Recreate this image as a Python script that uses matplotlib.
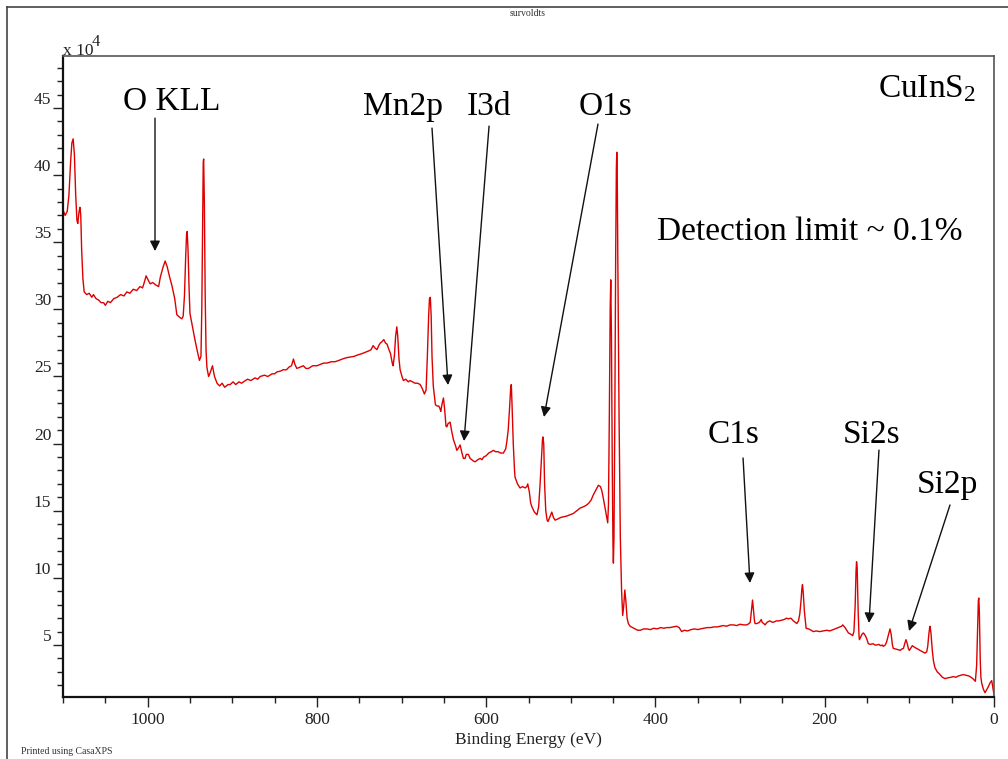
import matplotlib
matplotlib.use('Agg')
import matplotlib.pyplot as plt
from matplotlib.ticker import MultipleLocator
from matplotlib.lines import Line2D

# ---------------- data (binding energy in eV, counts in units of 1e4) ----------------
binding_energy = [
    1100, 1097.5, 1095, 1093, 1091, 1089.5, 1088, 1086.5, 1085, 1083.5, 1082.5, 1081, 1080, 1079,
    1078, 1076.5, 1075, 1072, 1069, 1066, 1064, 1061, 1058, 1055, 1052, 1050, 1047, 1044, 1040,
    1036, 1032, 1028, 1024.6, 1021, 1017, 1013, 1009, 1006, 1004, 1001.8, 999.5, 997, 994, 990,
    987, 985, 982, 979.3, 977, 974, 971.4, 968, 965.5, 962, 959.5, 958, 956.5, 955, 954, 953.3,
    952.3, 951, 950, 947, 944, 941, 938.8, 937, 936, 935, 934.3, 933.8, 933, 932, 931, 930, 928,
    926, 923.4, 921, 918, 915, 912, 909, 905, 902.5, 899, 896, 892, 889, 886.8, 882, 878, 873,
    870, 867, 862, 858, 853, 850, 847, 843, 840, 836, 833, 830, 827.7, 826, 823.7, 820, 816, 813,
    810, 805, 800, 796, 792, 788, 783, 778.6, 774, 770, 765, 760.8, 756, 752, 747, 743, 739, 736,
    733.6, 731, 729, 727, 725, 723, 721, 719, 717, 715.5, 713, 711, 710, 708.5, 707, 705.6, 704.5,
    703, 701.7, 699.5, 697.8, 695, 692, 690, 687, 684, 681, 678, 675.5, 673, 671, 669.5, 668, 667,
    666, 665, 664, 662.5, 662, 660, 658, 656, 654.5, 653.7, 652, 650.5, 649, 647.5, 646.5, 645,
    642.6, 641, 638.7, 636, 634.7, 632.5, 630.8, 629, 626.9, 625, 623.5, 621, 619, 617, 615, 613,
    610, 607, 605, 603, 600, 597, 594, 591.5, 589, 586, 583, 579.7, 577, 575.7, 574, 572.5, 571,
    570.3, 569.5, 568, 566.5, 565.9, 563, 560, 557, 554, 552, 550.9, 549, 547.5, 546, 543, 540,
    538, 537, 536.3, 535, 533.5, 533, 532, 531, 529.6, 528, 527, 525, 522.5, 520.5, 518.6, 515,
    512, 508.8, 505, 501, 497, 493, 489, 485, 482, 479, 476, 473.3, 470, 467.4, 465, 463.4, 461.5,
    459.5, 457.5, 456.4, 455.5, 454.5, 453.5, 452.8, 452, 451, 450.2, 449.7, 449, 448, 447, 446.2,
    445.7, 445.2, 444.5, 443, 441.5, 440, 438.7, 437.5, 436.2, 435, 433.5, 432, 430, 427, 424, 421,
    418, 414, 410, 406, 402, 398, 394, 390, 386.7, 383, 379, 375, 372, 369, 366, 362, 358, 354,
    350, 347, 343, 339, 335, 331, 327, 323.7, 320, 316, 312, 308, 304, 300, 296, 292, 289.5, 288,
    286.5, 285.3, 284.5, 283, 282.3, 280, 277, 275, 274, 272, 270.5, 268, 265, 262, 260.7, 257,
    254, 251, 248, 245, 243, 240, 237, 235, 233, 231, 229.5, 228, 227, 226.3, 225.5, 224, 222, 219,
    216, 213.5, 210, 206, 202, 197.6, 194, 190, 185.8, 182, 180, 178.7, 176, 173, 172, 169, 167,
    165.5, 164, 163, 162.4, 161.7, 160.5, 159.5, 159, 157.5, 156, 154.4, 153, 151.2, 150, 148.5,
    146, 143, 140.5, 138.6, 136, 134, 132, 130.8, 128.5, 126.8, 125, 123.5, 122.9, 121.5, 120, 119,
    116, 113, 111, 109, 107, 105.5, 104, 102.5, 101, 100, 98, 96.5, 95.3, 93, 90, 87.4, 84.5, 81.5,
    79.5, 78.3, 77, 76, 75.6, 74.5, 72.9, 71.5, 69.7, 67, 63.8, 61, 57.9, 55, 51, 48, 45, 42, 39,
    36.3, 33, 30, 28.4, 25, 22, 20.5, 19.3, 18.5, 18, 17.3, 16.3, 15.5, 14.5, 12.5, 10.6, 8.5, 6.7,
    4.5, 2.7, 1.5, 0,
]
counts_1e4 = [
    37.4, 37.0, 37.3, 38.5, 41.0, 42.4, 42.7, 41.5, 38.5, 36.6, 36.4, 37.3, 37.6, 37.0,
    34.5, 32.3, 31.3, 31.1, 31.2, 30.9, 31.1, 30.8, 30.7, 30.5, 30.5, 30.3, 30.6, 30.5, 30.8,
    30.9, 31.1, 31.0, 31.3, 31.2, 31.5, 31.4, 31.7, 31.6, 32.0, 32.5, 32.2, 31.9, 32.0, 31.8,
    31.7, 32.4, 33.1, 33.6, 33.2, 32.4, 31.8, 30.8, 29.6, 29.4, 29.3, 29.5, 31.0, 34.0, 35.6, 35.8,
    34.5, 31.5, 29.7, 28.7, 27.7, 26.8, 26.2, 26.5, 30.0, 36.5, 41.0, 41.2, 38.0, 31.0, 27.0, 25.7, 25.0,
    25.3, 25.8, 25.0, 24.5, 24.3, 24.5, 24.2, 24.4, 24.4, 24.6, 24.4, 24.6, 24.5, 24.6, 24.8, 24.7, 24.9,
    24.8, 25.0, 25.1, 25.0, 25.2, 25.2, 25.35, 25.4, 25.5, 25.5, 25.7, 25.8, 26.3, 25.9, 25.6, 25.7, 25.8, 25.6,
    25.6, 25.8, 25.8, 25.9, 26.0, 26.0, 26.1, 26.1, 26.2, 26.3, 26.4, 26.45, 26.5, 26.6, 26.7, 26.8, 26.9, 27.0,
    27.3, 27.1, 27.0, 27.3, 27.5, 27.6, 27.75, 27.5, 27.4, 27.1, 26.7, 26.0, 25.8, 26.5, 28.0, 28.7, 28.0,
    26.3, 25.5, 25.0, 24.7, 24.8, 24.6, 24.7, 24.6, 24.5, 24.5, 24.4, 24.1, 23.7, 24.0, 26.5, 29.5, 30.8,
    30.9, 29.5, 26.5, 24.3, 24.0, 22.9, 22.8, 22.8, 22.6, 22.4, 23.0, 23.4, 22.5, 21.3, 21.25, 21.5,
    21.6, 21.0, 20.3, 19.8, 19.5, 19.7, 19.9, 19.4, 18.9, 18.9, 19.2, 19.2, 18.9, 18.8, 18.7, 18.65,
    18.8, 18.9, 18.8, 19.0, 19.1, 19.3, 19.4, 19.5, 19.4, 19.4, 19.3, 19.3, 19.6, 20.1, 21.0, 22.5, 24.2,
    24.4, 23.0, 20.0, 18.0, 17.5, 17.0, 16.7, 16.8, 16.7, 16.8, 17.0, 16.4, 15.6, 15.3, 14.9, 14.7,
    15.3, 16.3, 17.0, 18.5, 20.3, 20.5, 20.0, 17.0, 15.0, 14.3, 14.2, 14.5, 14.9, 14.5, 14.3, 14.4,
    14.5, 14.55, 14.6, 14.7, 14.8, 15.0, 15.2, 15.3, 15.4, 15.55, 15.8, 16.2, 16.6, 16.9, 16.8, 16.5, 15.9,
    15.2, 14.5, 14.1, 15.5, 22.0, 30.0, 32.2, 28.0, 18.0, 12.5, 11.1, 13.0, 22.0, 34.0, 40.5,
    41.7, 40.5, 34.0, 22.0, 13.0, 9.0, 7.2, 7.9, 9.1, 8.3, 7.0, 6.6, 6.4, 6.3, 6.2, 6.1,
    6.1, 6.2, 6.2, 6.15, 6.25, 6.2, 6.3, 6.25, 6.3, 6.3, 6.35, 6.4, 6.3, 6.0, 6.1, 6.05, 6.15, 6.2,
    6.15, 6.2, 6.25, 6.3, 6.3, 6.35, 6.35, 6.4, 6.45, 6.4, 6.5, 6.5, 6.45, 6.55, 6.5, 6.5, 6.6, 6.7,
    7.6, 8.35, 7.8, 6.8, 6.6, 6.6, 6.7, 6.9, 6.7, 6.6, 6.5, 6.7, 6.8, 6.7, 6.7, 6.8,
    6.8, 6.85, 6.9, 7.0, 6.95, 7.0, 6.8, 6.7, 6.6, 6.8, 7.3, 8.3, 9.2, 9.5, 9.0, 7.5, 6.25, 6.2,
    6.1, 6.0, 6.05, 6.0, 6.05, 6.1, 6.05, 6.15, 6.25, 6.35, 6.4, 6.5, 6.3, 6.0, 5.9, 5.8, 5.7,
    6.0, 8.0, 10.5, 11.2, 10.8, 7.5, 5.7, 5.4, 5.6, 5.8, 5.9, 5.8, 5.6, 5.4, 5.1,
    5.05, 5.1, 5.0, 5.0, 5.05, 4.95, 5.0, 4.9, 5.0, 5.25, 5.7, 6.1, 6.2, 5.8, 5.0, 4.75,
    4.7, 4.65, 4.6, 4.7, 4.75, 5.1, 5.4, 5.1, 4.7, 4.6, 4.8, 4.95, 4.9, 4.8, 4.7, 4.6, 4.5, 4.4,
    4.5, 4.9, 5.8, 6.3, 6.4, 5.9, 4.6, 3.8, 3.3, 3.0, 2.8, 2.6, 2.5, 2.55, 2.6, 2.65, 2.6, 2.7, 2.75,
    2.8, 2.75, 2.7, 2.65, 2.5, 2.3, 3.5, 6.5, 8.3, 8.5, 7.5, 4.0, 2.6, 2.15, 1.7, 1.45, 1.7, 1.9,
    2.2, 2.35, 1.9, 1.3,
]

peak_labels = ['O KLL', 'Mn2p', 'I3d', 'O1s', 'C1s', 'Si2s', 'Si2p']
peak_energies = [991.3, 645.1, 626.2, 531.7, 288.3, 147.7, 100.4]   # arrow tips (eV)
sample_name = 'CuInS$_2$'
note_text = 'Detection limit ~ 0.1%'

# ---------------- style ----------------
plt.rcParams['font.family'] = ['Liberation Serif', 'DejaVu Serif']
plt.rcParams['mathtext.fontset'] = 'custom'
plt.rcParams['mathtext.rm'] = 'Liberation Serif'
plt.rcParams['mathtext.it'] = 'Liberation Serif:italic'

W, H = 1008, 759
fig = plt.figure(figsize=(W / 100, H / 100), dpi=100)
ax = fig.add_axes([63 / W, 1 - 697 / H, (994 - 63) / W, (697 - 56) / H])

ax.plot(binding_energy, counts_1e4, color='#dd0000', lw=1.0)
ax.set_xlim(1100, 0)
ax.set_ylim(1.13, 48.87)

ax.xaxis.set_major_locator(MultipleLocator(200))
ax.xaxis.set_minor_locator(MultipleLocator(50))
ax.yaxis.set_major_locator(MultipleLocator(5))
ax.yaxis.set_minor_locator(MultipleLocator(1))
ax.tick_params(which='major', direction='out', length=7.5, width=1.0,
               labelsize=12.5, labelcolor='#222222', color='#222222')
ax.tick_params(which='minor', direction='out', length=4.5, width=1.0, color='#222222')
ax.tick_params(axis='x', which='major', pad=3)
ax.tick_params(axis='y', which='major', pad=1)
for t in ax.get_yticklabels():
    t.set_verticalalignment('bottom')

for side in ('left', 'bottom'):
    ax.spines[side].set_linewidth(1.6)
    ax.spines[side].set_color('#111111')
for side in ('top', 'right'):
    ax.spines[side].set_linewidth(1.2)
    ax.spines[side].set_color('#555555')

ax.set_xlabel('Binding Energy (eV)', fontsize=12.5, labelpad=3, color='#222222')

# figure-level decorations
fig.add_artist(Line2D([7 / W, 1], [1 - 7 / H, 1 - 7 / H], transform=fig.transFigure,
                      color='#444444', lw=1.2))
fig.add_artist(Line2D([7 / W, 7 / W], [0, 1 - 7 / H], transform=fig.transFigure,
                      color='#444444', lw=1.2))
fig.text(528 / W, 1 - 14 / H, 'survoldts', ha='center', va='center', fontsize=7, color='#333333')
fig.text(21 / W, 1 - 752 / H, 'Printed using CasaXPS', ha='left', va='center', fontsize=7,
         color='#333333')
fig.text(63 / W, 1 - 55 / H, 'x 10', ha='left', va='baseline', fontsize=12.5, color='#222222')
fig.text(92 / W, 1 - 46 / H, '4', ha='left', va='baseline', fontsize=12, color='#222222')

# annotations: (label text position, arrow tail, arrow tip)
label_pos = [(971.2, 44.84), (698.3, 44.47), (597.2, 44.47), (459.6, 44.47),
             (307.8, 20.04), (144.7, 20.04), (55.5, 16.32)]
arrow_tail = [(991.3, 44.24), (664.0, 43.5), (596.6, 43.65), (467.9, 43.8),
              (296.5, 18.93), (135.9, 19.52), (52.0, 15.43)]
arrow_tip_y = [34.34, 24.36, 20.19, 21.98, 9.62, 6.64, 6.04]

for lab, (lx, ly), tail, ex, ey in zip(peak_labels, label_pos, arrow_tail,
                                        peak_energies, arrow_tip_y):
    ax.text(lx, ly, lab, ha='center', va='baseline', fontsize=24, color='black')
    ax.annotate('', xy=(ex, ey), xytext=tail,
                arrowprops=dict(arrowstyle='-|>,head_length=0.5,head_width=0.25',
                                color='#111111', lw=1.0, mutation_scale=12,
                                shrinkA=0, shrinkB=0))

ax.text(79.2, 45.8, sample_name, ha='center', va='baseline', fontsize=24)
ax.text(218.0, 35.16, note_text, ha='center', va='baseline', fontsize=24)

fig.savefig('out.png', dpi=100)
